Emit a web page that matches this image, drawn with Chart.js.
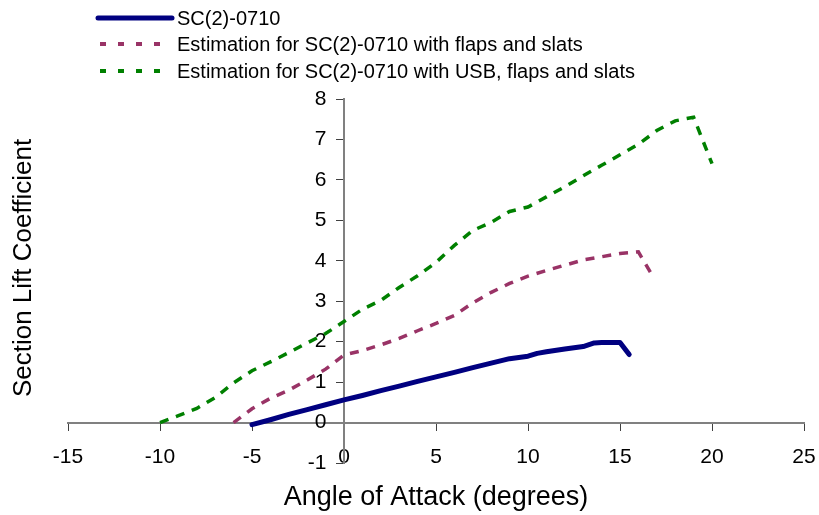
<!DOCTYPE html>
<html>
<head>
<meta charset="utf-8">
<script src="https://cdn.jsdelivr.net/npm/chart.js@4.4.1/dist/chart.umd.min.js"></script>
<style>
    html, body { margin: 0; padding: 0; background: #fff; }
    #wrap { width: 819px; height: 515px; }
</style>
</head>
<body>
<div id="wrap"><canvas id="liftChart" width="819" height="515"></canvas></div>
<script>
// plain airfoil
const baseAoA = [-5, -4, -3, -2, -1, 0, 1, 2, 3, 4, 5, 6, 7, 8, 9, 10, 10.5, 11, 12, 13, 13.6, 14, 15, 15.5];
const baseCl  = [-0.05, 0.07, 0.2, 0.32, 0.44, 0.56, 0.67, 0.79, 0.9, 1.02, 1.13, 1.24, 1.36, 1.47, 1.58, 1.64, 1.71, 1.75, 1.82, 1.88, 1.97, 1.98, 1.98, 1.68];

// flaps and slats
const flapAoA = [-6, -5, -4, -3, -2, -1, -0.2, 0, 1, 2, 3, 4, 5, 6, 7, 8, 9, 10, 11, 12, 13, 14, 15, 16, 16.8];
const flapCl  = [0, 0.34, 0.6, 0.8, 1.05, 1.32, 1.6, 1.67, 1.78, 1.92, 2.08, 2.27, 2.45, 2.65, 2.96, 3.22, 3.44, 3.62, 3.76, 3.89, 4.02, 4.1, 4.18, 4.22, 3.6];

// USB, flaps and slats
const usbAoA = [-10, -9, -8, -7, -6, -5, -4, -3, -2, -1, 0, 1, 2, 3, 4, 5, 6, 7, 8, 9, 10, 11, 12, 13, 14, 15, 16, 17, 18, 19, 20];
const usbCl  = [0, 0.17, 0.35, 0.62, 0.98, 1.28, 1.5, 1.73, 1.97, 2.2, 2.5, 2.8, 3.02, 3.34, 3.63, 3.96, 4.38, 4.75, 4.95, 5.22, 5.33, 5.58, 5.83, 6.1, 6.36, 6.62, 6.88, 7.22, 7.46, 7.55, 6.4];

const seriesNames = [
    'SC(2)-0710',
    'Estimation for SC(2)-0710 with flaps and slats',
    'Estimation for SC(2)-0710 with USB, flaps and slats'
];

const xTitle = 'Angle of Attack (degrees)';
const yTitle = 'Section Lift Coefficient';

const FONT = "'Liberation Sans', Arial, sans-serif";

function toPoints(xs, ys) {
    return xs.map((x, i) => ({ x: x, y: ys[i] }));
}

// legend + axis titles drawn by hand, the chart has them in odd spots
const extrasPlugin = {
    id: 'extras',
    afterDraw(chart) {
        const ctx = chart.ctx;
        const area = chart.chartArea;
        const legendDash = [[], [6, 12], [6, 12]];
        const rowY = [18, 44, 71];

        ctx.save();
        chart.data.datasets.forEach((ds, i) => {
            ctx.beginPath();
            ctx.strokeStyle = ds.borderColor;
            ctx.lineWidth = i === 0 ? 5 : 4;
            ctx.lineCap = i === 0 ? 'round' : 'butt';
            ctx.setLineDash(legendDash[i]);
            ctx.moveTo(i === 0 ? 98 : 100, rowY[i]);
            ctx.lineTo(i === 0 ? 172 : 162, rowY[i]);
            ctx.stroke();

            ctx.setLineDash([]);
            ctx.fillStyle = '#000';
            ctx.font = '20px ' + FONT;
            ctx.textAlign = 'left';
            ctx.textBaseline = 'middle';
            ctx.fillText(ds.label, 177, rowY[i] + 1);
        });

        ctx.font = '27px ' + FONT;
        ctx.textAlign = 'center';
        ctx.textBaseline = 'middle';
        ctx.fillText(xTitle, (area.left + area.right) / 2, 498);

        ctx.font = '26px ' + FONT;
        ctx.translate(24, 268);
        ctx.rotate(-Math.PI / 2);
        ctx.fillText(yTitle, 0, 0);
        ctx.restore();
    }
};

const ctx = document.getElementById('liftChart').getContext('2d');
new Chart(ctx, {
    type: 'line',
    data: {
        datasets: [
            {
                label: seriesNames[0],
                data: toPoints(baseAoA, baseCl),
                borderColor: '#000080',
                borderWidth: 5,
                borderCapStyle: 'round',
                borderJoinStyle: 'round',
                pointRadius: 0,
                tension: 0
            },
            {
                label: seriesNames[1],
                data: toPoints(flapAoA, flapCl),
                borderColor: '#993366',
                borderWidth: 3.5,
                borderDash: [9, 8],
                pointRadius: 0,
                tension: 0
            },
            {
                label: seriesNames[2],
                data: toPoints(usbAoA, usbCl),
                borderColor: '#008000',
                borderWidth: 3.5,
                borderDash: [9, 8],
                pointRadius: 0,
                tension: 0
            }
        ]
    },
    options: {
        responsive: false,
        animation: false,
        devicePixelRatio: 1,
        layout: {
            padding: { left: 68, right: 0, top: 99, bottom: 52 }
        },
        plugins: {
            legend: { display: false },
            tooltip: { enabled: false }
        },
        scales: {
            x: {
                type: 'linear',
                position: { y: 0 },
                min: -15,
                max: 25,
                // tick padding gets added to the edge room, keep only what "25" needs
                afterFit: scale => { scale.paddingRight = 15; },
                ticks: {
                    stepSize: 5,
                    padding: 15,
                    color: '#000',
                    maxRotation: 0,
                    font: { family: FONT, size: 21 }
                },
                grid: {
                    display: true,
                    drawOnChartArea: false,
                    drawTicks: true,
                    tickLength: 7,
                    tickColor: '#404040',
                    tickWidth: 1
                },
                border: { display: true, color: '#808080', width: 2 }
            },
            y: {
                type: 'linear',
                position: { x: 0 },
                min: -1,
                max: 8,
                ticks: {
                    stepSize: 1,
                    color: '#000',
                    font: { family: FONT, size: 21 },
                    // labels sit right on the axis otherwise, pad with spaces
                    callback: value => value + '   '
                },
                grid: {
                    display: true,
                    drawOnChartArea: false,
                    drawTicks: true,
                    tickLength: 7,
                    tickColor: '#404040',
                    tickWidth: 1
                },
                border: { display: true, color: '#808080', width: 2 }
            }
        }
    },
    plugins: [extrasPlugin]
});
</script>
</body>
</html>
